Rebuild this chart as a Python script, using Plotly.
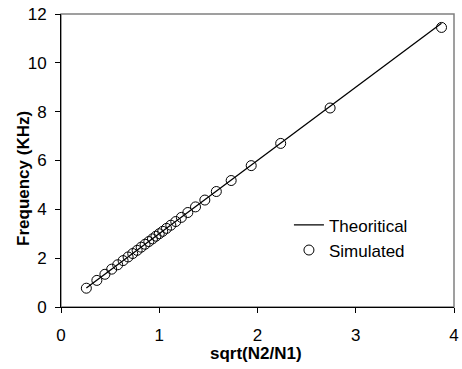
import plotly.graph_objects as go

# sqrt(N2/N1)
x_vals = [0.258, 0.365, 0.447, 0.516, 0.577, 0.632, 0.683, 0.730, 0.775, 0.816,
          0.856, 0.894, 0.931, 0.966, 1.000, 1.035, 1.074, 1.118, 1.168, 1.225,
          1.291, 1.369, 1.464, 1.581, 1.732, 1.936, 2.236, 2.739, 3.873]
# theoretical frequency (kHz)
theory = [0.775, 1.095, 1.341, 1.548, 1.731, 1.896, 2.049, 2.190, 2.325, 2.448,
          2.568, 2.682, 2.793, 2.898, 3.000, 3.105, 3.222, 3.354, 3.504, 3.675,
          3.873, 4.107, 4.392, 4.743, 5.196, 5.808, 6.708, 8.217, 11.619]
# simulated frequency (kHz)
simulated = [0.77, 1.09, 1.34, 1.55, 1.73, 1.90, 2.05, 2.19, 2.32, 2.45,
             2.57, 2.68, 2.79, 2.90, 3.00, 3.10, 3.22, 3.35, 3.50, 3.67,
             3.87, 4.10, 4.38, 4.73, 5.18, 5.79, 6.70, 8.15, 11.45]

x_ticks = [0, 1, 2, 3, 4]
y_ticks = [0, 2, 4, 6, 8, 10, 12]

FONT = "Liberation Sans, Arial, sans-serif"

fig = go.Figure()
fig.add_trace(go.Scatter(
    x=x_vals, y=theory, mode="lines", name="Theoritical",
    line=dict(color="black", width=1.3),
))
fig.add_trace(go.Scatter(
    x=x_vals, y=simulated, mode="markers", name="Simulated",
    marker=dict(symbol="circle-open", size=10, color="black", line=dict(width=1, color="black")),
))

fig.update_layout(
    width=462, height=369,
    margin=dict(l=61, r=3, t=14, b=62),
    paper_bgcolor="white", plot_bgcolor="white",
    font=dict(family=FONT, size=17, color="black"),
    showlegend=True,
    legend=dict(x=0.58, y=0.34, xanchor="left", yanchor="top",
                bgcolor="rgba(0,0,0,0)", font=dict(size=17, family=FONT),
                tracegroupgap=0),
    shapes=[dict(type="rect", xref="paper", yref="paper", x0=0, y0=0, x1=1, y1=1,
                 line=dict(color="#808080", width=1.5), layer="below")],
    annotations=[
        dict(text="<b>sqrt(N2/N1)</b>", xref="paper", yref="paper",
             x=0.495, y=-0.157, xanchor="center", yanchor="middle",
             showarrow=False, font=dict(size=17, family=FONT)),
        dict(text="<b>Frequency (KHz)</b>", xref="paper", yref="paper",
             x=-0.097, y=0.44, xanchor="center", yanchor="middle", textangle=-90,
             showarrow=False, font=dict(size=17, family=FONT)),
    ],
)
fig.update_xaxes(
    range=[0, 4], tickvals=x_ticks, showgrid=False, zeroline=False,
    showline=True, linecolor="black", linewidth=1,
    ticks="outside", ticklen=5, tickcolor="black",
    ticklabelstandoff=8, ticklabeloverflow="allow",
    tickfont=dict(size=17, family=FONT),
)
fig.update_yaxes(
    range=[0, 12], tickvals=y_ticks, showgrid=False, zeroline=False,
    showline=True, linecolor="black", linewidth=1,
    ticks="outside", ticklen=5, tickcolor="black",
    ticklabelstandoff=5,
    tickfont=dict(size=17, family=FONT),
)

fig.write_html("out.html")
